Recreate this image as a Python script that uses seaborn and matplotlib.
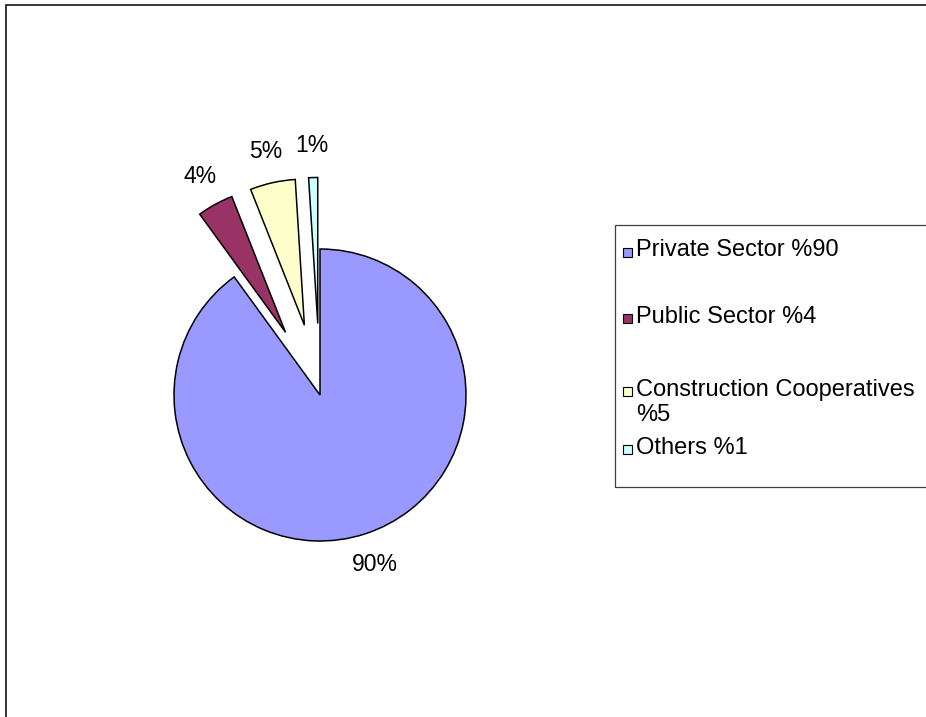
import matplotlib
matplotlib.use("Agg")
import matplotlib.pyplot as plt
from matplotlib.patches import Rectangle
import seaborn as sns

# Housing production by sector (share of total, %)
categories = ["Private Sector %90", "Public Sector %4",
              "Construction Cooperatives\n%5", "Others %1"]
shares = [90, 4, 5, 1]
slice_colors = ["#9999FF", "#993366", "#FFFFCC", "#CCFFFF"]

sns.set_theme(style="white")
plt.rcParams["font.family"] = ["Liberation Sans", "DejaVu Sans"]

W, H = 926, 717
fig = plt.figure(figsize=(W / 100, H / 100), dpi=100)
fig.patch.set_facecolor("white")


def fx(px):
    return px / W


def fy(py):
    return 1 - py / H


# pie centre and radius in pixels; axes spans the whole figure
cx, cy, r = 320, 395, 146
ax = fig.add_axes([0, 0, 1, 1])
palette = sns.color_palette(slice_colors)
wedges, texts, autotexts = ax.pie(
    shares,
    colors=palette,
    startangle=90,
    counterclock=False,
    explode=[0, 0.49, 0.49, 0.49],
    autopct="%1.0f%%",
    pctdistance=1.22,
    wedgeprops=dict(edgecolor="black", linewidth=1.1),
    textprops=dict(fontsize=16.5, color="black"),
)
ax.set_xlim(-cx / r, (W - cx) / r)
ax.set_ylim(-(H - cy) / r, cy / r)
ax.set_aspect("auto")
ax.axis("off")

# outer chart frame (runs off the right and bottom edges)
fig.add_artist(Rectangle((fx(6), fy(H + 20)), fx(W + 20 - 6), (H + 20 - 5.5) / H,
                         transform=fig.transFigure, fill=False,
                         edgecolor="black", linewidth=1.1))

# legend box
fig.add_artist(Rectangle((fx(615), fy(487)), fx(W + 20 - 615), (487 - 225) / H,
                         transform=fig.transFigure, fill=False,
                         edgecolor="#404040", linewidth=0.9))

baselines = [256.5, 323, 396, 454]
line_gap = 25
sq = 9
for label, color, base in zip(categories, palette, baselines):
    fig.add_artist(Rectangle((fx(623), fy(base)), sq / W, sq / H,
                             transform=fig.transFigure, facecolor=color,
                             edgecolor="black", linewidth=0.8))
    for i, line in enumerate(label.split("\n")):
        fig.text(fx(636.5), fy(base + i * line_gap), line, fontsize=17,
                 color="black", ha="left", va="baseline")

fig.savefig("out.png", dpi=100, facecolor="white")
